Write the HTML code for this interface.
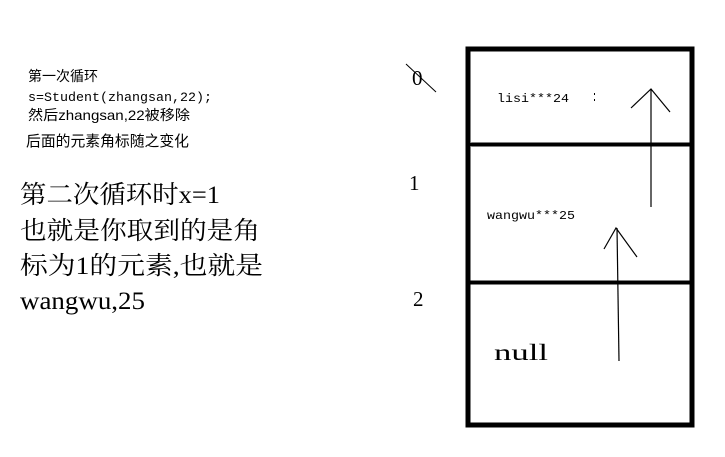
<!DOCTYPE html>
<html><head><meta charset="utf-8"><style>
html,body{margin:0;padding:0;background:#fff;}
svg{display:block}
</style></head><body>
<svg width="725" height="457" viewBox="0 0 725 457" xmlns="http://www.w3.org/2000/svg">
<rect x="0" y="0" width="725" height="457" fill="#fff"/>
<g font-family="'Liberation Sans','Noto Sans CJK SC',sans-serif" fill="#000">
<text x="28" y="81" font-size="14">第一次循环</text>
<text x="28" y="101" font-size="13" font-family="'Liberation Mono','Noto Sans CJK SC',monospace" textLength="184" lengthAdjust="spacingAndGlyphs">s=Student(zhangsan,22);</text>
<text x="28" y="120" font-size="14" textLength="162" lengthAdjust="spacingAndGlyphs">然后zhangsan,22被移除</text>
<text x="26" y="146" font-size="15" textLength="163" lengthAdjust="spacingAndGlyphs">后面的元素角标随之变化</text>
</g>
<g font-family="'Liberation Serif','Noto Serif CJK SC',serif" fill="#000" font-size="25">
<text x="20" y="203" textLength="200" lengthAdjust="spacingAndGlyphs">第二次循环时x=1</text>
<text x="20" y="239" textLength="240" lengthAdjust="spacingAndGlyphs">也就是你取到的是角</text>
<text x="20" y="274" textLength="243" lengthAdjust="spacingAndGlyphs">标为1的元素,也就是</text>
<text x="20" y="309" textLength="125" lengthAdjust="spacingAndGlyphs">wangwu,25</text>
</g>
<g font-family="'Liberation Serif',serif" fill="#000" font-size="21">
<text x="412" y="85">0</text>
<text x="409" y="190">1</text>
<text x="413" y="306">2</text>
<text x="494" y="360" font-size="23" textLength="54" lengthAdjust="spacingAndGlyphs">null</text>
</g>
<line x1="406" y1="64" x2="436" y2="92" stroke="#000" stroke-width="1"/>
<g font-family="'Liberation Mono',monospace" font-size="12" fill="#000">
<text x="497" y="102" textLength="72" lengthAdjust="spacingAndGlyphs">lisi***24</text>
<text x="487" y="219" textLength="88" lengthAdjust="spacingAndGlyphs">wangwu***25</text>
</g>
<rect x="594" y="93" width="1" height="2" fill="#000"/>
<rect x="594" y="99" width="1" height="2" fill="#000"/>
<rect x="468" y="49" width="224" height="376" fill="none" stroke="#000" stroke-width="5"/>
<line x1="472" y1="144.5" x2="692" y2="144.5" stroke="#000" stroke-width="4" stroke-linecap="round"/>
<line x1="468" y1="282.5" x2="692" y2="282.5" stroke="#000" stroke-width="4"/>
<g stroke="#000" stroke-width="1.2" fill="none">
<line x1="651" y1="207" x2="651" y2="89"/>
<polyline points="631,108 651,89 670,112"/>
<line x1="619" y1="361" x2="617" y2="228"/>
<polyline points="604,249 616,228 637,257"/>
</g>
</svg>
</body></html>
